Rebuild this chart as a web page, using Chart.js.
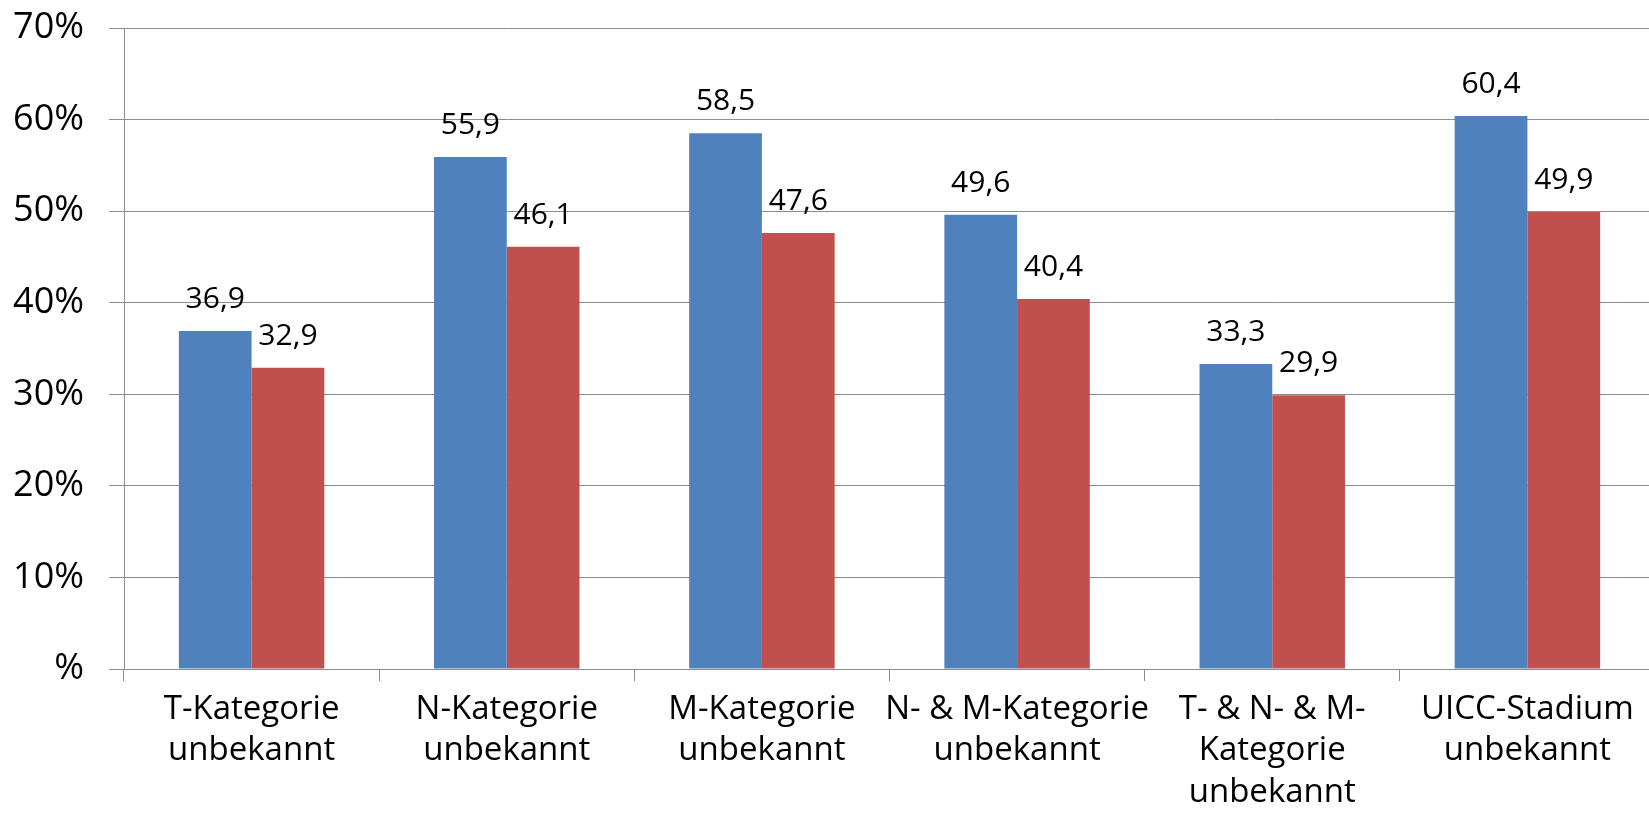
<!DOCTYPE html>
<html>
<head>
<meta charset="utf-8">
<script src="https://cdn.jsdelivr.net/npm/chart.js@4"></script>
<style>
  html, body { margin: 0; padding: 0; background: #fff; overflow: hidden; }
  #wrap { width: 1655px; height: 813px; }
</style>
</head>
<body>
<div id="wrap"><canvas id="chart"></canvas></div>
<script>
const categories = [
  ["T-Kategorie", "unbekannt"],
  ["N-Kategorie", "unbekannt"],
  ["M-Kategorie", "unbekannt"],
  ["N- & M-Kategorie", "unbekannt"],
  ["T- & N- & M-", "Kategorie", "unbekannt"],
  ["UICC-Stadium", "unbekannt"],
];
const blueValues = [36.9, 55.9, 58.5, 49.6, 33.3, 60.4];
const redValues = [32.9, 46.1, 47.6, 40.4, 29.9, 49.9];
const yTicks = [0, 10, 20, 30, 40, 50, 60, 70];

const fontFamily = "'Open Sans', sans-serif";
const gridColor = "#8c8c8c";

// value labels above each bar, German decimal comma
const barLabels = {
  id: "barLabels",
  afterDatasetsDraw(chart) {
    const ctx = chart.ctx;
    ctx.save();
    ctx.font = "30px " + fontFamily;
    ctx.fillStyle = "#000";
    ctx.textAlign = "center";
    ctx.textBaseline = "alphabetic";
    chart.data.datasets.forEach((ds, i) => {
      chart.getDatasetMeta(i).data.forEach((bar, j) => {
        const txt = ds.data[j].toFixed(1).replace(".", ",");
        ctx.fillText(txt, bar.x, bar.y - 23);
      });
    });
    ctx.restore();
  },
};

new Chart(document.getElementById("chart"), {
  type: "bar",
  data: {
    labels: categories,
    datasets: [
      { label: "A", data: blueValues, backgroundColor: "#4f81bd", borderWidth: 0 },
      { label: "B", data: redValues, backgroundColor: "#c0504d", borderWidth: 0 },
    ],
  },
  options: {
    responsive: true,
    maintainAspectRatio: false,
    animation: false,
    events: [],
    categoryPercentage: 0.57,
    barPercentage: 1.0,
    layout: { padding: { top: 28, right: 0, left: 0, bottom: 0 } },
    plugins: { legend: { display: false }, tooltip: { enabled: false } },
    scales: {
      x: {
        afterFit(scale) {
          scale.height = 144;
          scale.paddingLeft = 0;
          scale.paddingRight = 0;
        },
        grid: {
          offset: true,
          drawOnChartArea: false,
          drawTicks: true,
          tickLength: 12,
          color: gridColor,
        },
        border: { color: gridColor },
        ticks: {
          color: "#000",
          padding: 8,
          maxRotation: 0,
          autoSkip: false,
          font: { family: fontFamily, size: 33, lineHeight: 1.25 },
        },
      },
      y: {
        min: 0,
        max: 70,
        afterBuildTicks(scale) {
          scale.ticks = yTicks.map((v) => ({ value: v }));
        },
        afterFit(scale) {
          scale.width = 124;
          scale.paddingTop = 0;
          scale.paddingBottom = 0;
        },
        grid: { color: gridColor, tickLength: 15 },
        border: { color: gridColor },
        ticks: {
          color: "#000",
          padding: 25,
          font: { family: fontFamily, size: 36 },
          callback: (v) => (v === 0 ? "%" : v + "%"),
        },
      },
    },
  },
  plugins: [barLabels],
});
</script>
</body>
</html>
